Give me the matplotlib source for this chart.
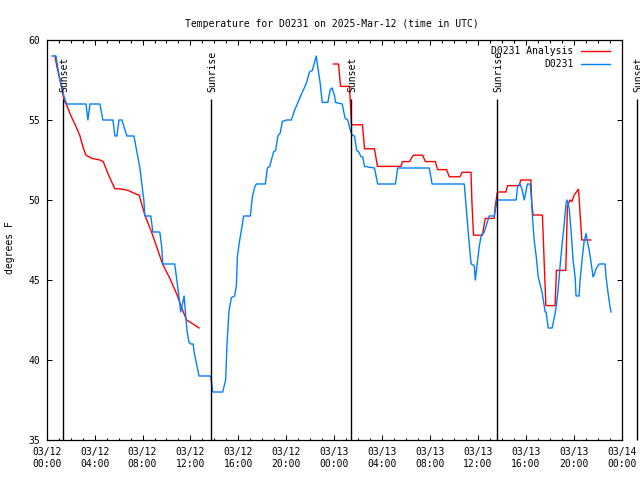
import matplotlib
matplotlib.use("Agg")
import matplotlib.pyplot as plt
from matplotlib.ticker import MultipleLocator

plt.rcParams['font.family'] = ['DejaVu Sans Mono']
plt.rcParams['font.size'] = 7

# hours since 2025-03-12 00:00 UTC
obs_hours = [0.44, 0.78, 0.94, 1.11, 1.28, 1.44, 1.61, 1.69, 3.28, 3.44, 3.61, 4.44,
             4.69, 5.53, 5.69, 5.86, 6.03, 6.28, 6.69, 7.28, 7.53, 7.78, 7.94, 8.11,
             8.19, 8.69, 8.86, 9.44, 9.61, 9.69, 10.69, 10.86, 11.03, 11.19, 11.36,
             11.47, 11.61, 11.72, 11.88, 12.03, 12.22, 12.33, 12.5, 12.72, 13.69,
             13.86, 14.69, 14.94, 15.05, 15.22, 15.42, 15.69, 15.83, 15.92, 16.11,
             16.25, 16.44, 17.0, 17.17, 17.36, 17.5, 18.25, 18.42, 18.61, 18.83,
             18.94, 19.11, 19.3, 19.5, 19.67, 20.0, 20.42, 20.69, 20.97, 21.25,
             21.44, 21.67, 21.94, 22.17, 22.36, 22.5, 22.63, 22.83, 23.0, 23.47,
             23.67, 23.83, 24.03, 24.11, 24.67, 24.8, 24.92, 25.13, 25.33, 25.5,
             25.69, 25.88, 26.05, 26.25, 26.38, 26.53, 27.36, 27.63, 29.11, 29.3,
             31.94, 32.17, 34.86, 35.03, 35.19, 35.36, 35.44, 35.69, 35.78, 35.94,
             36.11, 36.28, 36.53, 36.78, 36.94, 37.36, 37.53, 37.61, 39.19, 39.3,
             39.5, 39.67, 39.86, 40.0, 40.13, 40.36, 40.47, 40.55, 40.69, 40.86,
             41.03, 41.19, 41.36, 41.53, 41.61, 41.69, 41.78, 41.86, 42.19, 42.36,
             42.53, 42.69, 42.86, 43.03, 43.19, 43.28, 43.36, 43.44, 43.61, 43.78,
             43.94, 44.11, 44.19, 44.44, 44.53, 44.69, 44.86, 45.03, 45.11, 45.28,
             45.44, 45.61, 45.69, 45.86, 46.11, 46.61, 46.69, 46.86, 47.03, 47.11]
obs_temp = [59, 59, 58.2, 57.5, 57, 56.5, 56.1, 56, 56, 55, 56, 56,
            55, 55, 54, 54, 55, 55, 54, 54, 53, 52, 51, 50,
            49, 49, 48, 48, 47, 46, 46, 45, 44, 43, 43.6,
            44, 42.7, 41.8, 41.1, 41, 41, 40.4, 39.8, 39, 39,
            38, 38, 38.75, 41, 43.1, 43.9, 44, 44.6, 46.5, 47.5,
            48.1, 49, 49, 50.2, 50.8, 51, 51, 52, 52.1, 52.7,
            53, 53.1, 54, 54.2, 54.9, 55, 55, 55.6, 56.1, 56.6,
            56.9, 57.3, 58, 58.1, 58.6, 59, 58.3, 57.3, 56.1, 56.1,
            56.9, 57, 56.5, 56.1, 56, 55.5, 55.1, 55, 54.4, 54.06,
            54, 53.1, 53, 52.7, 52.7, 52.1, 52, 51, 51, 52,
            52, 51, 51, 49.4, 48, 46.5, 46, 45.9, 45, 46,
            47.1, 47.8, 48, 48.6, 49, 49, 49.7, 50, 50, 50.8,
            51, 50.7, 50, 50.5, 51, 51, 50, 49, 47.5, 46.5,
            45.2, 44.7, 44.2, 43.4, 43, 43, 42.5, 42, 42, 42.6,
            43.3, 44.4, 45.9, 47.3, 48.4, 49.2, 49.8, 50, 49.5, 48,
            46.25, 45.2, 44, 44, 45, 46.25, 47.4, 47.9, 47.5, 46.9,
            46.1, 45.2, 45.3, 45.7, 46, 46, 45.2, 44.2, 43.3, 43]

ana1_hours = [0.69, 0.86, 1.11, 1.28, 1.44, 1.69, 1.94, 2.19, 2.44, 2.78, 3.03,
              3.28, 3.78, 4.44, 4.72, 5.03, 5.44, 5.69, 6.11, 6.8, 7.36, 7.72,
              8.19, 8.75, 9.17, 9.67, 10.28, 10.89, 11.25, 11.67, 12.22, 12.72]
ana1_temp = [59, 58.3, 57.5, 56.9, 56.25, 55.9, 55.4, 55, 54.6, 54, 53.3,
             52.8, 52.6, 52.5, 52.4, 51.8, 51.1, 50.7, 50.7, 50.6, 50.4, 50.3,
             49.06, 48, 47.1, 46, 45.1, 44.06, 43.3, 42.5, 42.25, 42]

ana2_hours = [23.94, 24.36, 24.53, 25.28, 25.44, 26.36, 26.53, 27.36, 27.61, 29.58,
              29.69, 30.28, 30.44, 30.61, 31.38, 31.61, 32.44, 32.63, 33.38, 33.61,
              34.5, 34.67, 35.42, 35.5, 35.63, 36.38, 36.47, 36.61, 37.36, 37.44,
              37.63, 38.33, 38.47, 39.44, 39.58, 40.42, 40.5, 40.61, 41.38, 41.53,
              41.67, 42.44, 42.55, 43.33, 43.47, 43.67, 43.83, 44.03, 44.38, 44.44,
              44.53, 44.63, 44.67, 45.42]
ana2_temp = [58.5, 58.5, 57.1, 57.1, 54.7, 54.7, 53.2, 53.2, 52.1, 52.1,
             52.4, 52.4, 52.6, 52.8, 52.8, 52.4, 52.4, 51.9, 51.9, 51.45,
             51.45, 51.73, 51.73, 49.8, 47.8, 47.8, 48.25, 48.85, 48.85, 49.6,
             50.5, 50.5, 50.9, 50.9, 51.25, 51.25, 49.7, 49.06, 49.06, 46.1,
             43.4, 43.4, 45.6, 45.6, 49.6, 50, 49.9, 50.3, 50.67, 50.2,
             49.06, 47.96, 47.5, 47.5]

event_hours = [1.37, 13.72, 25.39, 37.61, 49.27]
event_names = ['Sunset', 'Sunrise', 'Sunset', 'Sunrise', 'Sunset']

tick_hours = list(range(0, 49, 4))
tick_labels = ['03/12\n00:00', '03/12\n04:00', '03/12\n08:00', '03/12\n12:00',
               '03/12\n16:00', '03/12\n20:00', '03/13\n00:00', '03/13\n04:00',
               '03/13\n08:00', '03/13\n12:00', '03/13\n16:00', '03/13\n20:00',
               '03/14\n00:00']

fig = plt.figure(figsize=(6.4, 4.8), dpi=100)
ax = fig.add_axes([46.7 / 640, 40 / 480, 575 / 640, 400 / 480])

ax.plot(ana1_hours, ana1_temp, color='#ff0000', lw=1.0, label='D0231 Analysis')
ax.plot(ana2_hours, ana2_temp, color='#ff0000', lw=1.0)
ax.plot(obs_hours, obs_temp, color='#0080ff', lw=1.0, label='D0231')

for h, name in zip(event_hours, event_names):
    ax.vlines(h, 35, 56.3, color='black', lw=1.0, clip_on=False)
    ax.text(h + 0.12, 56.75, name, rotation=90, ha='center', va='bottom',
            clip_on=False)

ax.set_xlim(0, 48)
ax.set_ylim(35, 60)
ax.set_xticks(tick_hours)
ax.set_xticklabels(tick_labels)
ax.xaxis.set_minor_locator(MultipleLocator(1))
ax.set_yticks([35, 40, 45, 50, 55, 60])

ax.tick_params(which='both', direction='in', top=True, right=True, width=0.75)
ax.tick_params(which='major', length=3.6)
ax.tick_params(which='minor', length=1.8)
ax.tick_params(axis='x', pad=5)
ax.tick_params(axis='y', pad=5)
for s in ax.spines.values():
    s.set_linewidth(0.9)

ax.set_ylabel('degrees F')
ax.yaxis.set_label_coords(-0.055, 0.48)

fig.text(332 / 640, 1 - 24 / 480, 'Temperature for D0231 on 2025-Mar-12 (time in UTC)',
         ha='center', va='center')

ax.legend(loc='upper right', bbox_to_anchor=(0.979, 0.985), frameon=False,
          markerfirst=False, handlelength=2.9, handletextpad=0.8,
          labelspacing=0.3, borderpad=0, borderaxespad=0)

fig.savefig('out.png', dpi=100)
